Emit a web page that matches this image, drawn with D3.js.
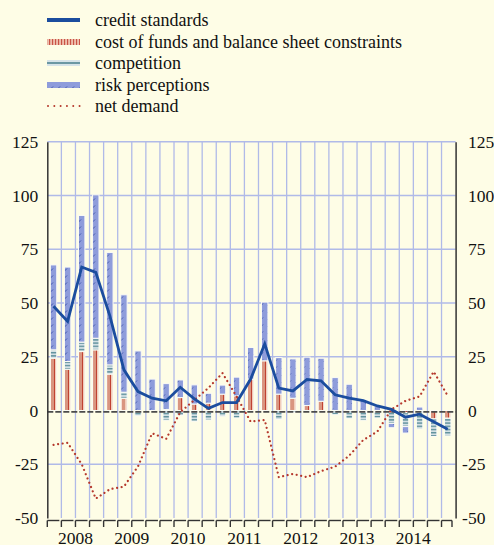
<!DOCTYPE html>
<html><head><meta charset="utf-8">
<script src="https://cdn.jsdelivr.net/npm/d3@7"></script>
<style>
body{margin:0;background:#fefde6;}
svg{display:block;}
</style>
</head><body>
<svg id="c" width="494" height="545"></svg>
<script>
const quarters = ["2008Q1","2008Q2","2008Q3","2008Q4","2009Q1","2009Q2","2009Q3","2009Q4",
  "2010Q1","2010Q2","2010Q3","2010Q4","2011Q1","2011Q2","2011Q3","2011Q4",
  "2012Q1","2012Q2","2012Q3","2012Q4","2013Q1","2013Q2","2013Q3","2013Q4",
  "2014Q1","2014Q2","2014Q3","2014Q4","2015Q1"];
const years = ["2008","2009","2010","2011","2012","2013","2014"];
const costOfFunds = [24.3,19.2,27.4,28.2,16.9,5.7,-0.5,0,0.5,6.0,3.0,3.4,7.6,6.8,14.6,23.1,
  7.6,5.7,2.3,4.3,0,0,-0.5,-0.5,0,-1,0,-3.9,-3.6];
const competition = [3.9,3.6,4.4,5.4,4.3,2.8,-2,0,-4.5,-2.3,-5.0,-4.4,-2.7,-3.5,0,0,
  -4.2,-1,-0.5,0,-2,-3.8,-4,-3,-6,-6.5,-8.6,-8.2,-8.2];
const riskPerceptions = [39.5,43.9,58.9,66.7,52.3,45.3,27.7,14.6,12,8.2,8.9,4.6,4.2,8.7,14.7,27.3,
  17,18.3,22.5,20,15.3,12.2,4.9,2.1,-2,-3,1.6,0,0];
const creditStandards = [48.5,41.4,66.7,64.2,44,18.9,8.8,5.7,4.5,10.8,5.4,1,3.7,3.7,14.6,31,
  10.4,9.1,14.4,13.8,7.3,5.7,4.6,2.1,0.5,-3.1,-1.7,-5.2,-8.7];
const netDemand = [-16,-15,-25,-41,-36.6,-35.4,-26,-10.6,-13.2,-0.8,4.9,10.5,17.4,6.5,-5.2,-4.4,
  -31,-29.5,-31,-28.2,-26.1,-21,-13.7,-9.8,0.5,4.5,6.5,18.1,6.8];
const yTicks = [-50,-25,0,25,50,75,100,125];
const legendLabels = ["credit standards","cost of funds and balance sheet constraints",
  "competition","risk perceptions","net demand"];

const FONT = "Liberation Serif";
const svg = d3.select("#c");
const gridColor = "#b0bae8";
const x = d3.scaleBand().domain(quarters).range([47.3, 455.6]).padding(0);
const bw = x.bandwidth();
const cx = q => x(q) + bw/2 - 0.8;
const y = d3.scaleLinear().domain([-50,125]).range([518,141.7]);

// defs
const defs = svg.append("defs");
const g1 = defs.append("linearGradient").attr("id","costGrad").attr("x1",0).attr("x2",1).attr("y1",0).attr("y2",0);
[["0","#f4d6c8"],["0.12","#f4d6c8"],["0.12","#d99580"],["0.6","#d99580"],["0.6","#c04232"],
 ["0.74","#c04232"],["0.74","#f0cdbb"],["1","#f0cdbb"]].forEach(s=>g1.append("stop").attr("offset",s[0]).attr("stop-color",s[1]));
const pc = defs.append("pattern").attr("id","compPat").attr("patternUnits","userSpaceOnUse").attr("width",4).attr("height",3.2);
pc.append("rect").attr("width",4).attr("height",3.2).attr("fill","#d3e0e5");
pc.append("rect").attr("width",4).attr("height",1.4).attr("fill","#5f909c");
const pr = defs.append("pattern").attr("id","riskPat").attr("patternUnits","userSpaceOnUse").attr("width",7).attr("height",7);
pr.append("rect").attr("width",7).attr("height",7).attr("fill","#8e9cdb");
pr.append("line").attr("x1",1.5).attr("y1",5).attr("x2",4).attr("y2",2.5).attr("stroke","#3a4fa8").attr("stroke-width",0.9);
const pl = defs.append("pattern").attr("id","costLeg").attr("patternUnits","userSpaceOnUse").attr("width",3).attr("height",6);
pl.append("rect").attr("width",3).attr("height",6).attr("fill","#eebfad");
pl.append("rect").attr("x",1.2).attr("width",0.9).attr("height",6).attr("fill","#c0392b");

// background
svg.append("rect").attr("width",494).attr("height",545).attr("fill","#fefde6");

// gridlines
svg.append("g").selectAll("line").data(quarters.slice(1)).join("line")
  .attr("x1",d=>x(d)).attr("x2",d=>x(d)).attr("y1",y(125)).attr("y2",y(-50))
  .attr("stroke",gridColor).attr("stroke-width",1.3);
svg.append("g").selectAll("line").data(yTicks.filter(v=>v!==-50 && v!==0)).join("line")
  .attr("x1",47.3).attr("x2",455.6).attr("y1",d=>y(d)).attr("y2",d=>y(d))
  .attr("stroke",gridColor).attr("stroke-width",1.6);

// bars
const rows = quarters.map((q,i)=>({q, cost:costOfFunds[i], comp:competition[i], risk:riskPerceptions[i]}));
const stack = d3.stack().keys(["cost","comp","risk"]).offset(d3.stackOffsetDiverging);
const fills = {cost:"url(#costGrad)", comp:"url(#compPat)", risk:"url(#riskPat)"};
const barW = 6.4;
svg.append("g").selectAll("g").data(stack(rows)).join("g")
  .attr("fill", s=>fills[s.key])
  .selectAll("rect").data(s=>s.filter(d=>d[1]-d[0]!==0)).join("rect")
  .attr("x", d=>cx(d.data.q)-barW/2).attr("width",barW)
  .attr("y", d=>y(Math.max(d[0],d[1])))
  .attr("height", d=>Math.abs(y(d[0])-y(d[1])))
  .attr("stroke","#fbfbf4").attr("stroke-width",1);

// zero line
svg.append("line").attr("x1",47.3).attr("x2",455.6).attr("y1",y(0)+1.3).attr("y2",y(0)+1.3)
  .attr("stroke","#4b4b4b").attr("stroke-width",1.8).attr("stroke-dasharray","6,2");

// lines
const lineGen = d3.line().x((d,i)=>cx(quarters[i])).y(d=>y(d));
svg.append("path").datum(netDemand).attr("d",lineGen).attr("fill","none")
  .attr("stroke","#b5382c").attr("stroke-width",2.2).attr("stroke-linecap","round")
  .attr("stroke-dasharray","0.01,4.6");
svg.append("path").datum(creditStandards).attr("d",lineGen).attr("fill","none")
  .attr("stroke","#1b4d9e").attr("stroke-width",2.8).attr("stroke-linejoin","miter");

// axes
const fmt = d => d<0 ? "-"+Math.abs(d) : String(d);
const la = svg.append("g").attr("transform","translate(47.3,0)")
  .call(d3.axisLeft(y).tickValues(yTicks).tickSize(0).tickPadding(9).tickFormat(fmt));
la.select(".domain").attr("stroke","#333").attr("stroke-width",1.5);
la.selectAll("text").attr("font-size",17.5).attr("font-family",FONT).attr("fill","#111");
const ra = svg.append("g").attr("transform","translate(455.6,0)")
  .call(d3.axisRight(y).tickValues(yTicks).tickSize(0).tickPadding(12.5).tickFormat(fmt));
ra.select(".domain").attr("stroke","#333").attr("stroke-width",1.5);
ra.selectAll("text").attr("font-size",17.5).attr("font-family",FONT).attr("fill","#111")
  .attr("dx",d=>d<0?-6:0);

// bottom axis (quarter ticks)
const bx = svg.append("g");
const xb = 520.5;
quarters.forEach((q,i)=>{
  const x0 = x(q);
  const x1 = Math.min(x0 + bw - 2, 452);
  bx.append("line").attr("x1",x0).attr("x2",x1).attr("y1",xb).attr("y2",xb).attr("stroke","#333").attr("stroke-width",1.4);
  bx.append("line").attr("x1",x0).attr("x2",x0).attr("y1",xb).attr("y2",xb+6.5).attr("stroke","#333").attr("stroke-width",1.4);
});
bx.append("line").attr("x1",452).attr("x2",452).attr("y1",xb).attr("y2",xb+6.5).attr("stroke","#333").attr("stroke-width",1.4);
svg.append("g").selectAll("text").data(years).join("text")
  .attr("x", d=>x(d+"Q1")+2*bw).attr("y",543.5).attr("text-anchor","middle")
  .attr("font-family",FONT).attr("fill","#111")
  .attr("font-size",17.5).text(d=>d);

// legend
const lg = svg.append("g");
const ly = [20,42,63,85,106];
lg.append("line").attr("x1",47).attr("x2",80).attr("y1",ly[0]).attr("y2",ly[0]).attr("stroke","#1b4d9e").attr("stroke-width",4);
lg.append("rect").attr("x",47).attr("y",ly[1]-3).attr("width",33).attr("height",6).attr("fill","url(#costLeg)");
lg.append("rect").attr("x",47).attr("y",ly[2]-3).attr("width",33).attr("height",6).attr("fill","#d6e3e8");
lg.append("line").attr("x1",47).attr("x2",80).attr("y1",ly[2]).attr("y2",ly[2]).attr("stroke","#6b97a3").attr("stroke-width",2);
lg.append("rect").attr("x",47).attr("y",ly[3]-3).attr("width",33).attr("height",6).attr("fill","url(#riskPat)");
lg.append("line").attr("x1",48).attr("x2",80).attr("y1",ly[4]).attr("y2",ly[4]).attr("stroke","#b5382c")
  .attr("stroke-width",2).attr("stroke-linecap","round").attr("stroke-dasharray","0.01,6.3");
lg.selectAll("text").data(legendLabels).join("text")
  .attr("x",95).attr("y",(d,i)=>ly[i]).attr("dy","0.33em").attr("font-size",18)
  .attr("font-family",FONT).attr("fill","#111").text(d=>d);
</script>
</body></html>
